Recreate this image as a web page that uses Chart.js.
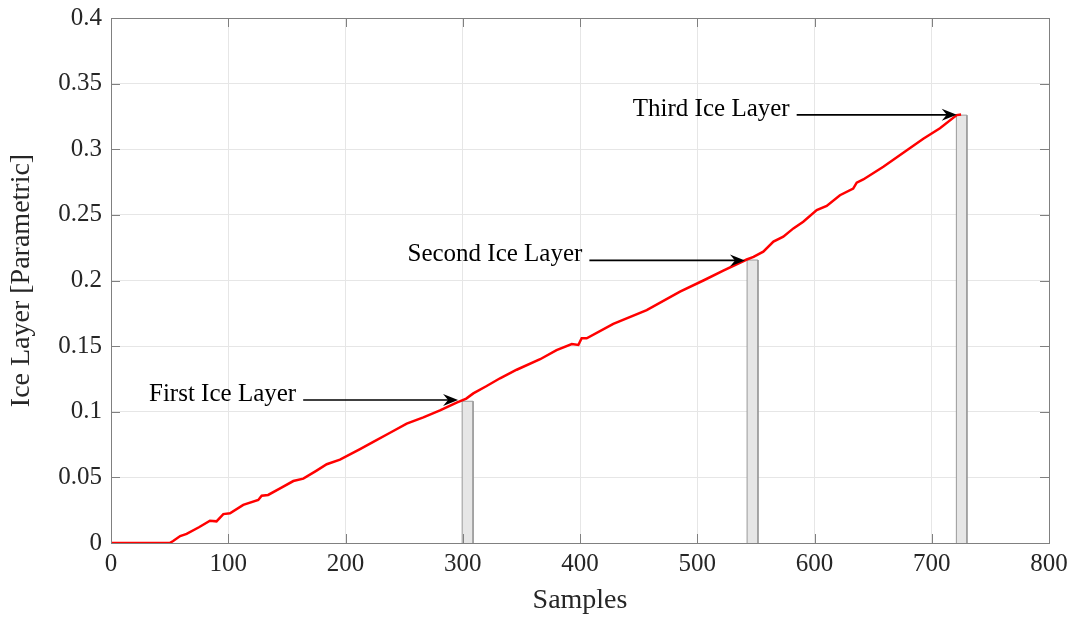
<!DOCTYPE html>
<html>
<head>
<meta charset="utf-8">
<script src="https://cdn.jsdelivr.net/npm/chart.js@4.4.0/dist/chart.umd.min.js"></script>
<style>
  html, body { margin: 0; padding: 0; background: #fff; }
  #wrap { width: 1076px; height: 619px; }
</style>
</head>
<body>
<div id="wrap"><canvas id="chart"></canvas></div>
<script>
// red ice layer curve
const sampleX = [0, 50, 53, 59, 64.5, 75, 84.4, 90, 95.8, 101.5, 112.8, 125.6, 128.5, 134, 145, 155.5, 164, 175, 184, 195.3,
    212.4, 223.7, 238, 252.2, 266.4, 280.6, 294.8, 303, 309, 320.4, 331.8, 346, 366, 380, 393, 398.6, 401.4, 405.7, 428.4, 456.9,
    485.3, 505.2, 522.2, 542.2, 548, 556.3, 565, 573.4, 582, 590.4, 601.9, 610.4, 621.7, 633, 636, 641.6, 658.7, 673, 692.8, 707,
    721.3, 725];
const iceLevel = [0, 0, 0.0015, 0.0053, 0.0069, 0.012, 0.017, 0.0165, 0.022, 0.0226, 0.029, 0.0328, 0.036, 0.0366, 0.042, 0.0472, 0.049, 0.055, 0.060, 0.0635,
    0.0716, 0.077, 0.084, 0.091, 0.0957, 0.101, 0.107, 0.110, 0.114, 0.1196, 0.1255, 0.132, 0.140, 0.147, 0.1516, 0.1509, 0.156, 0.156, 0.167, 0.1775,
    0.1915, 0.200, 0.2075, 0.216, 0.218, 0.222, 0.2296, 0.2334, 0.2397, 0.2448, 0.2537, 0.2568, 0.265, 0.270, 0.2745, 0.277, 0.2867, 0.2956, 0.308, 0.316,
    0.326, 0.3265];

// grey layer bars and their labels
const layerNames = ['First Ice Layer', 'Second Ice Layer', 'Third Ice Layer'];
const layerStart = [299.5, 542.5, 721];
const layerEnd = [308.8, 551.8, 730];
const layerHeight = [0.108, 0.2156, 0.326];
const arrowFrom = [163.9, 408, 584.8];
const arrowTo = [296, 540.7, 721.3];
const arrowLevel = [0.109, 0.2153, 0.3262];

const xTicks = [0, 100, 200, 300, 400, 500, 600, 700, 800];
const yTicks = [0, 0.05, 0.1, 0.15, 0.2, 0.25, 0.3, 0.35, 0.4];
const yTickLabels = ['0', '0.05', '0.1', '0.15', '0.2', '0.25', '0.3', '0.35', '0.4'];

const FONT = "'Liberation Serif', 'Times New Roman', serif";
const AXIS_GREY = '#808080';

const datasets = [{
    label: 'Ice Layer',
    data: sampleX.map((x, i) => ({ x: x, y: iceLevel[i] })),
    borderColor: '#ff0000',
    borderWidth: 2.5,
    pointRadius: 0,
    tension: 0,
    fill: false,
    order: 0
}];

layerNames.forEach((name, i) => {
    datasets.push({
        label: name,
        data: [
            { x: layerStart[i], y: 0 },
            { x: layerStart[i], y: layerHeight[i] },
            { x: layerEnd[i], y: layerHeight[i] },
            { x: layerEnd[i], y: 0 }
        ],
        borderColor: '#9a9a9a',
        borderWidth: 1,
        backgroundColor: '#e6e6e6',
        fill: 'origin',
        pointRadius: 0,
        tension: 0,
        order: 1
    });
});

const framePlugin = {
    id: 'frame',
    afterDraw(chart) {
        const { ctx, chartArea: a, scales } = chart;
        ctx.save();
        ctx.strokeStyle = AXIS_GREY;
        ctx.lineWidth = 1;
        ctx.strokeRect(Math.round(a.left) + 0.5, Math.round(a.top) + 0.5,
            Math.round(a.right - a.left), Math.round(a.bottom - a.top));

        // inward tick marks on all four sides
        ctx.beginPath();
        xTicks.forEach(v => {
            const px = Math.round(scales.x.getPixelForValue(v)) + 0.5;
            ctx.moveTo(px, a.bottom); ctx.lineTo(px, a.bottom - 9);
            ctx.moveTo(px, a.top); ctx.lineTo(px, a.top + 9);
        });
        yTicks.forEach(v => {
            const py = Math.round(scales.y.getPixelForValue(v)) + 0.5;
            ctx.moveTo(a.left, py); ctx.lineTo(a.left + 9, py);
            ctx.moveTo(a.right, py); ctx.lineTo(a.right - 9, py);
        });
        ctx.stroke();

        // annotation arrows and labels
        ctx.fillStyle = '#000';
        ctx.strokeStyle = '#000';
        ctx.font = '25px ' + FONT;
        ctx.textAlign = 'right';
        ctx.textBaseline = 'alphabetic';
        layerNames.forEach((name, i) => {
            const x1 = scales.x.getPixelForValue(arrowFrom[i]);
            const x2 = scales.x.getPixelForValue(arrowTo[i]);
            const y = scales.y.getPixelForValue(arrowLevel[i]);
            ctx.lineWidth = 1.6;
            ctx.beginPath();
            ctx.moveTo(x1, y);
            ctx.lineTo(x2 - 9, y);
            ctx.stroke();
            ctx.beginPath();
            ctx.moveTo(x2, y);
            ctx.lineTo(x2 - 15, y - 6);
            ctx.lineTo(x2 - 10, y);
            ctx.lineTo(x2 - 15, y + 6);
            ctx.closePath();
            ctx.fill();
            ctx.fillText(name, x1 - 7, y + 1);
        });
        ctx.restore();
    }
};

new Chart(document.getElementById('chart'), {
    type: 'line',
    data: { datasets: datasets },
    options: {
        responsive: true,
        maintainAspectRatio: false,
        devicePixelRatio: 1,
        animation: false,
        layout: { padding: { left: 0, top: 18, right: 27, bottom: 0 } },
        plugins: {
            legend: { display: false },
            tooltip: { enabled: false }
        },
        scales: {
            x: {
                type: 'linear',
                min: 0,
                max: 800,
                afterBuildTicks: s => { s.ticks = xTicks.map(v => ({ value: v })); },
                afterFit: s => { s.height = 76; s.paddingLeft = 0; s.paddingRight = 0; },
                ticks: {
                    color: '#262626',
                    font: { family: FONT, size: 25 },
                    padding: 6,
                    maxRotation: 0
                },
                grid: { color: '#e6e6e6', drawTicks: false },
                border: { color: AXIS_GREY },
                title: {
                    display: true,
                    text: 'Samples',
                    color: '#262626',
                    font: { family: FONT, size: 28 },
                    padding: { top: 0, bottom: 2 }
                }
            },
            y: {
                type: 'linear',
                min: 0,
                max: 0.4,
                afterBuildTicks: s => { s.ticks = yTicks.map(v => ({ value: v })); },
                afterFit: s => { s.width = 111; s.paddingTop = 0; s.paddingBottom = 0; },
                ticks: {
                    color: '#262626',
                    font: { family: FONT, size: 25 },
                    padding: 9,
                    callback: (value) => yTickLabels[yTicks.findIndex(t => Math.abs(t - value) < 1e-9)]
                },
                grid: { color: '#e6e6e6', drawTicks: false },
                border: { color: AXIS_GREY },
                title: {
                    display: true,
                    text: 'Ice Layer [Parametric]',
                    color: '#262626',
                    font: { family: FONT, size: 28 },
                    padding: { top: 5, bottom: 0 }
                }
            }
        }
    },
    plugins: [framePlugin]
});
</script>
</body>
</html>
